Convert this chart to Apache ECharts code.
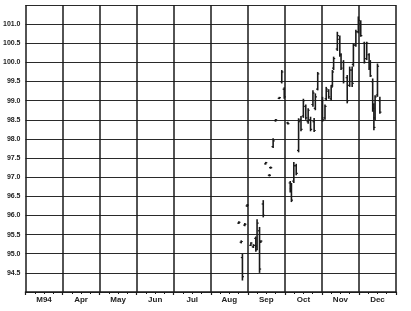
<!DOCTYPE html>
<html>
<head>
<meta charset="utf-8">
<script src="https://cdn.jsdelivr.net/npm/echarts@6/dist/echarts.min.js"></script>
<style>html,body{margin:0;padding:0;background:#fff;}#c{width:411px;height:311px;}</style>
</head>
<body>
<div id="c"></div>
<script>
const monthLabels = ['M94','Apr','May','Jun','Jul','Aug','Sep','Oct','Nov','Dec'];
const monthDays = [31,30,31,30,31,31,30,31,30,31];
const dates = ['08-24','08-26','08-27','08-29','08-31','09-03','09-05','09-07','09-08','09-10',
  '09-11','09-13','09-15','09-18','09-19','09-21','09-23','09-26','09-28','09-30',
  '10-03','10-05','10-06','10-08','10-10','10-12','10-14','10-16','10-18','10-20',
  '10-22','10-24','10-25','10-26','10-28','11-01','11-03','11-04','11-06','11-08',
  '11-09','11-10','11-13','11-15','11-16','11-18','11-21','11-23','11-25','11-26',
  '11-28','11-30','12-02','12-05','12-07','12-09','12-10','12-12','12-13','12-14',
  '12-16','12-18'];
const highs = [95.85,95.35,95.00,95.80,96.30,95.30,95.25,95.45,95.90,95.70,
  95.35,96.40,97.40,97.08,97.28,98.02,98.52,99.10,99.80,99.35,
  98.45,96.90,96.85,97.40,97.35,98.54,98.60,99.05,98.90,98.80,
  98.58,99.27,98.55,99.19,99.75,99.10,98.90,99.36,99.30,99.40,
  99.80,100.15,100.80,100.70,100.24,100.06,99.67,99.89,99.89,100.50,
  100.85,101.20,101.10,100.54,100.54,100.24,100.06,99.58,98.93,99.14,
  99.97,99.10];
const lows = [95.78,95.27,94.30,95.72,96.22,95.20,95.15,95.05,95.10,94.50,
  95.28,95.95,97.33,97.02,97.22,97.76,98.45,99.04,99.45,99.05,
  98.38,96.60,96.35,96.85,97.05,97.65,98.20,98.55,98.50,98.40,
  98.20,98.84,98.18,98.75,99.27,98.45,98.50,99.00,99.05,99.00,
  99.36,99.80,100.30,100.15,99.80,99.45,98.93,99.36,99.36,99.89,
  100.41,100.76,100.67,99.97,100.06,99.80,99.62,98.71,98.23,98.49,
  99.10,98.66];
const opens = [95.80,95.30,94.90,95.75,96.25,95.22,95.18,95.40,95.20,95.60,
  95.30,96.30,97.35,97.05,97.25,97.80,98.48,99.06,99.50,99.30,
  98.42,96.85,96.70,96.90,97.30,97.70,98.50,98.60,98.85,98.45,
  98.50,98.90,98.45,98.80,99.30,99.00,98.55,99.05,99.25,99.05,
  99.40,99.85,100.35,100.60,100.20,100.00,99.60,99.40,99.80,99.95,
  100.45,100.80,101.00,100.50,100.10,100.20,100.00,99.50,98.90,98.55,
  99.15,99.00];
const closes = [95.82,95.32,94.40,95.77,96.27,95.28,95.22,95.10,95.80,94.60,
  95.33,96.00,97.38,97.05,97.25,97.95,98.50,99.08,99.75,99.10,
  98.40,96.65,96.40,97.30,97.10,98.45,98.25,99.00,98.55,98.75,
  98.25,99.20,98.22,99.10,99.70,98.50,98.85,99.30,99.10,99.35,
  99.75,100.10,100.70,100.20,99.85,99.50,99.00,99.80,99.45,100.45,
  100.80,101.10,100.70,100.00,100.50,99.85,99.65,98.80,98.30,99.10,
  99.90,98.70];

function dateToX(s){
  const m = parseInt(s.slice(0,2),10), d = parseInt(s.slice(3),10);
  const idx = m - 3;
  return idx + (d - 0.5) / monthDays[idx];
}
const ohlc = dates.map((s,i)=>[dateToX(s), opens[i], highs[i], lows[i], closes[i]]);

const chart = echarts.init(document.getElementById('c'), null, {renderer:'canvas'});
const ink = '#1a1a1a';
chart.setOption({
  animation:false,
  backgroundColor:'#fff',
  grid:{left:25, right:15, top:5, bottom:19},
  xAxis:[
    {type:'value', min:0, max:10, interval:1,
     axisLabel:{show:false},
     splitLine:{show:true, lineStyle:{color:ink, width:1.5}},
     axisLine:{show:true, onZero:false, lineStyle:{color:ink, width:1.5}},
     axisTick:{show:true, length:3, lineStyle:{color:ink, width:1.2}},
     minorTick:{show:true, splitNumber:4, length:2, lineStyle:{color:ink, width:1}},
     minorSplitLine:{show:false}},
    {type:'category', data:monthLabels, position:'bottom', boundaryGap:true,
     axisLine:{show:false}, axisTick:{show:false}, splitLine:{show:false},
     axisLabel:{margin:4, fontSize:8, fontWeight:'bold', color:'#222', fontFamily:'Liberation Sans'}}
  ],
  yAxis:{type:'value', min:94, max:101.5, interval:0.5,
    axisLine:{show:false}, axisTick:{show:false},
    splitLine:{show:true, lineStyle:{color:'#2a2a2a', width:1.2}},
    axisLabel:{margin:5, fontSize:7, fontWeight:'bold', color:'#222', fontFamily:'Liberation Sans',
      formatter:function(v){ return (v < 94.25 || v > 101.25) ? '' : v.toFixed(1); }}},
  series:[{
    type:'custom', xAxisIndex:0, yAxisIndex:0,
    data:ohlc,
    encode:{x:0, y:[1,2,3,4]},
    renderItem:function(params, api){
      const x = api.value(0);
      const pH = api.coord([x, api.value(2)]);
      const pL = api.coord([x, api.value(3)]);
      const pO = api.coord([x, api.value(1)]);
      const pC = api.coord([x, api.value(4)]);
      let y1 = pH[1], y2 = pL[1];
      if (y2 - y1 < 2) { const m=(y1+y2)/2; y1 = m-1; y2 = m+1; }
      const st = {stroke:ink, lineWidth:1.6};
      return {type:'group', children:[
        {type:'line', shape:{x1:pH[0], y1:y1, x2:pL[0], y2:y2}, style:st},
        {type:'line', shape:{x1:pO[0]-1.6, y1:pO[1], x2:pO[0], y2:pO[1]}, style:{stroke:ink, lineWidth:1.2}},
        {type:'line', shape:{x1:pC[0], y1:pC[1], x2:pC[0]+1.6, y2:pC[1]}, style:{stroke:ink, lineWidth:1.2}}
      ]};
    }
  }]
});
</script>
</body>
</html>
